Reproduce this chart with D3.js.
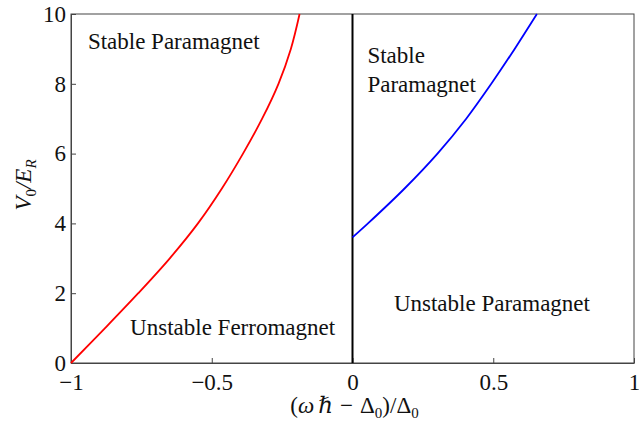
<!DOCTYPE html>
<html>
<head>
	<meta charset="utf-8">
	<script src="https://d3js.org/d3.v7.min.js"></script>
	<title>Phase diagram</title>
	<style>
		body { margin: 0; background: #fff; }
		svg text { font-family: "Liberation Serif", Tinos, "Times New Roman", Times, "DejaVu Serif", serif; fill: #111; }
	</style>
</head>
<body>
	<div id="chart"></div>

	<script type="text/javascript">

		// values
		var xTicks = [-1, -0.5, 0, 0.5, 1];
		var yTicks = [0, 2, 4, 6, 8, 10];

		// red boundary: V0/E_R against detuning
		var redV = [0, 1, 2, 3, 4, 5, 6, 7, 8, 9, 10];
		var redX = [-1, -0.879, -0.761, -0.649, -0.549, -0.464, -0.389, -0.321, -0.263, -0.219, -0.188];

		// blue boundary
		var blueV = [3.6, 4, 5, 6, 7, 8, 9, 10];
		var blueX = [0, 0.055, 0.185, 0.302, 0.404, 0.493, 0.576, 0.655];

		// vertical line at zero detuning
		var zeroV = [0, 10];
		var zeroX = [0, 0];

		var regionLabels = [
			{ lines: ["Stable Paramagnet"], x: -0.94, y: 9.0 },
			{ lines: ["Stable", "Paramagnet"], x: 0.053, y: 8.6 },
			{ lines: ["Unstable Ferromagnet"], x: -0.79, y: 0.8 },
			{ lines: ["Unstable Paramagnet"], x: 0.147, y: 1.5 }
		];

		var width = 639, height = 425;
		var margin = { top: 14, right: 5, bottom: 62, left: 71 };

		var svg = d3.select("#chart").append("svg")
			.attr("width", width)
			.attr("height", height);

		var xScale = d3.scaleLinear()
			.domain([-1, 1])
			.range([margin.left, width - margin.right]);

		var yScale = d3.scaleLinear()
			.domain([0, 10])
			.range([height - margin.bottom, margin.top]);

		var fmt = function(d) {
			var s = d3.format("")(d);
			return s.replace("-", "\u2212");
		};

		// frame
		svg.append("rect")
			.attr("x", margin.left)
			.attr("y", margin.top)
			.attr("width", width - margin.left - margin.right)
			.attr("height", height - margin.top - margin.bottom)
			.attr("fill", "none")
			.attr("stroke", "#444")
			.attr("stroke-width", 1);

		var xAxis = d3.axisBottom(xScale)
			.tickValues(xTicks)
			.tickSizeInner(-5)
			.tickSizeOuter(0)
			.tickPadding(11)
			.tickFormat(fmt);

		var yAxis = d3.axisLeft(yScale)
			.tickValues(yTicks)
			.tickSizeInner(-5)
			.tickSizeOuter(0)
			.tickPadding(5)
			.tickFormat(fmt);

		var gx = svg.append("g")
			.attr("transform", "translate(0," + (height - margin.bottom) + ")")
			.call(xAxis);
		var gy = svg.append("g")
			.attr("transform", "translate(" + margin.left + ",0)")
			.call(yAxis);

		[gx, gy].forEach(function(g) {
			g.attr("font-family", null).attr("font-size", null);
			g.select(".domain").attr("stroke", "#444");
			g.selectAll(".tick line").attr("stroke", "#444");
			g.selectAll(".tick text")
				.attr("font-size", 23)
				.attr("fill", "#111");
		});

		var line = d3.line()
			.x(function(d) { return xScale(d[0]); })
			.y(function(d) { return yScale(d[1]); })
			.curve(d3.curveCatmullRom);

		var red = d3.zip(redX, redV);
		var blue = d3.zip(blueX, blueV);
		var zero = d3.zip(zeroX, zeroV);

		svg.append("path").datum(zero)
			.attr("d", line)
			.attr("fill", "none")
			.attr("stroke", "#000")
			.attr("stroke-width", 2);

		svg.append("path").datum(red)
			.attr("d", line)
			.attr("fill", "none")
			.attr("stroke", "#f00")
			.attr("stroke-width", 1.8);

		svg.append("path").datum(blue)
			.attr("d", line)
			.attr("fill", "none")
			.attr("stroke", "#00f")
			.attr("stroke-width", 1.8);

		// region names
		regionLabels.forEach(function(r) {
			var t = svg.append("text")
				.attr("x", xScale(r.x))
				.attr("y", yScale(r.y))
				.attr("font-size", 23);
			r.lines.forEach(function(l, i) {
				t.append("tspan")
					.attr("x", xScale(r.x))
					.attr("dy", i == 0 ? 0 : 29)
					.text(l);
			});
		});

		// axis titles
		var xt = svg.append("text")
			.attr("x", xScale(0) + 2)
			.attr("y", 413)
			.attr("text-anchor", "middle")
			.attr("font-size", 23);
		xt.append("tspan").text("(");
		xt.append("tspan").attr("font-style", "italic").text("\u03c9");
		xt.append("tspan").attr("dx", 4).text("\u210f");
		xt.append("tspan").attr("dx", 7).text("\u2212");
		xt.append("tspan").attr("dx", 7).text("\u0394");
		xt.append("tspan").attr("font-size", 15).attr("dy", 5).text("0");
		xt.append("tspan").attr("dy", -5).text(")/\u0394");
		xt.append("tspan").attr("font-size", 15).attr("dy", 5).text("0");

		var yt = svg.append("text")
			.attr("transform", "translate(31," + yScale(5.1) + ") rotate(-90)")
			.attr("text-anchor", "middle")
			.attr("font-size", 23)
			.attr("font-style", "italic");
		yt.append("tspan").text("V");
		yt.append("tspan").attr("font-size", 15).attr("font-style", "normal").attr("dy", 5).text("0");
		yt.append("tspan").attr("dy", -5).text("/E");
		yt.append("tspan").attr("font-size", 15).attr("dy", 5).text("R");

	</script>
</body>
</html>
